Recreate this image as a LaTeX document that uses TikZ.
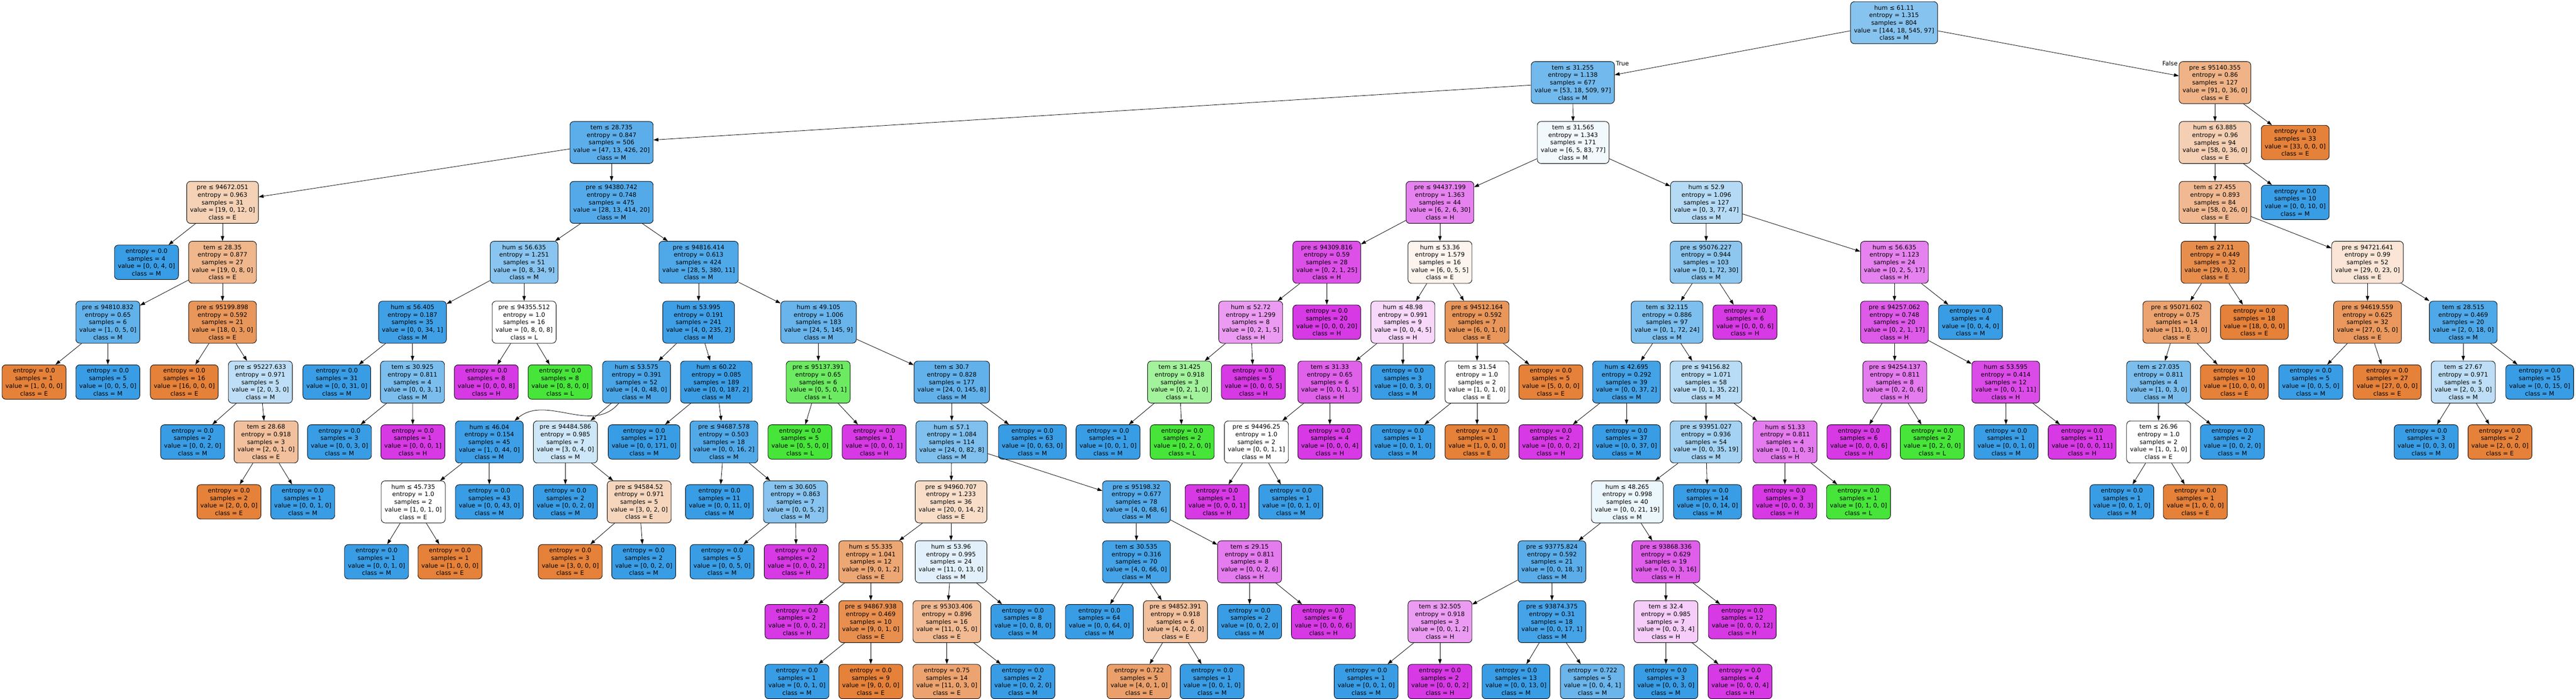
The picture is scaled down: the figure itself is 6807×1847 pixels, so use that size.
\documentclass[tikz,border=0pt]{standalone}
\usepackage{fontspec}
\setmainfont{DejaVu Sans}
\usetikzlibrary{arrows.meta}

\definecolor{cE}{HTML}{E58139}
\definecolor{cL}{HTML}{47E539}
\definecolor{cM}{HTML}{399DE5}
\definecolor{cH}{HTML}{D739E5}

% shade = share of the majority class over the runner-up
\def\dtparse#1,#2,#3,#4\relax{\def\dta{#1}\def\dtb{#2}\def\dtc{#3}\def\dtd{#4}}
\newcommand{\dtshade}[1]{%
  \dtparse#1\relax
  \pgfmathsetmacro\dtfirst{max(\dta,\dtb,\dtc,\dtd)}%
  \pgfmathsetmacro\dtsecond{max(min(max(\dta,\dtb),max(\dtc,\dtd)),min(\dta,\dtb),min(\dtc,\dtd))}%
  \pgfmathsetmacro\dtalpha{(\dtfirst-\dtsecond)/(\dta+\dtb+\dtc+\dtd-\dtsecond)*100}}
% name, x, level, test, entropy, samples, value, class
\newcommand{\dtsplit}[8]{\dtshade{#7}%
  \node[splitbox, fill = c#8!\dtalpha!white] (#1) at (#2, {60+158.3*#3})
    {#4\\entropy = #5\\samples = #6\\value = [#7]\\class = #8};}
% name, x, level, entropy, samples, value, class
\newcommand{\dtleaf}[7]{\dtshade{#6}%
  \node[leafbox, fill = c#7!\dtalpha!white] (#1) at (#2, {60+158.3*#3})
    {entropy = #4\\samples = #5\\value = [#6]\\class = #7};}

\begin{document}
\begin{tikzpicture}[x = 1pt, y = -1pt, align = center,
    font = \fontsize{16}{20}\selectfont,
    box/.style = {draw, line width = 1.2pt, rounded corners = 10pt, inner xsep = 9pt, inner ysep = 3pt},
    splitbox/.style = {box, minimum height = 111pt},
    leafbox/.style = {box, minimum height = 91pt},
    edge/.style = {line width = 1.1pt, -{Triangle[length = 13pt, width = 9pt]}}]
    \useasboundingbox (0, 0) rectangle (6807, 1847);

    % level 0 - 3
    \dtsplit{o}{5005}{0}{hum ≤ 61.11}{1.315}{804}{144, 18, 545, 97}{M}
    \dtsplit{l}{4156}{1}{tem ≤ 31.255}{1.138}{677}{53, 18, 509, 97}{M}
    \dtsplit{r}{5853}{1}{pre ≤ 95140.355}{0.86}{127}{91, 0, 36, 0}{E}
    \dtsplit{ll}{1616}{2}{tem ≤ 28.735}{0.847}{506}{47, 13, 426, 20}{M}
    \dtsplit{lr}{4157}{2}{tem ≤ 31.565}{1.343}{171}{6, 5, 83, 77}{M}
    \dtsplit{rl}{5853}{2}{hum ≤ 63.885}{0.96}{94}{58, 0, 36, 0}{E}
    \dtleaf{rr}{6065}{2}{0.0}{33}{33, 0, 0, 0}{E}
    \dtsplit{lll}{588}{3}{pre ≤ 94672.051}{0.963}{31}{19, 0, 12, 0}{E}
    \dtsplit{llr}{1616}{3}{pre ≤ 94380.742}{0.748}{475}{28, 13, 414, 20}{M}
    \dtsplit{lrl}{3805}{3}{pre ≤ 94437.199}{1.363}{44}{6, 2, 6, 30}{H}
    \dtsplit{lrr}{4509}{3}{hum ≤ 52.9}{1.096}{127}{0, 3, 77, 47}{M}
    \dtsplit{rll}{5853}{3}{tem ≤ 27.455}{0.893}{84}{58, 0, 26, 0}{E}
    \dtleaf{rlr}{6065}{3}{0.0}{10}{0, 0, 10, 0}{M}

    % level 4
    \dtleaf{llll}{387}{4}{0.0}{4}{0, 0, 4, 0}{M}
    \dtsplit{lllr}{588}{4}{tem ≤ 28.35}{0.877}{27}{19, 0, 8, 0}{E}
    \dtsplit{llrl}{1385}{4}{hum ≤ 56.635}{1.251}{51}{0, 8, 34, 9}{M}
    \dtsplit{llrr}{1846}{4}{pre ≤ 94816.414}{0.613}{424}{28, 5, 380, 11}{M}
    \dtsplit{lrll}{3506}{4}{pre ≤ 94309.816}{0.59}{28}{0, 2, 1, 25}{H}
    \dtsplit{lrlr}{3805}{4}{hum ≤ 53.36}{1.579}{16}{6, 0, 5, 5}{E}
    \dtsplit{lrrl}{4508}{4}{pre ≤ 95076.227}{0.944}{103}{0, 1, 72, 30}{M}
    \dtsplit{lrrr}{5006}{4}{hum ≤ 56.635}{1.123}{24}{0, 2, 5, 17}{H}
    \dtsplit{rlll}{5853}{4}{tem ≤ 27.11}{0.449}{32}{29, 0, 3, 0}{E}
    \dtsplit{rllr}{6256}{4}{pre ≤ 94721.641}{0.99}{52}{29, 0, 23, 0}{E}

    % level 5
    \dtsplit{lllrl}{285}{5}{pre ≤ 94810.832}{0.65}{6}{1, 0, 5, 0}{M}
    \dtsplit{lllrr}{588}{5}{pre ≤ 95199.898}{0.592}{21}{18, 0, 3, 0}{E}
    \dtsplit{llrll}{1090}{5}{hum ≤ 56.405}{0.187}{35}{0, 0, 34, 1}{M}
    \dtsplit{llrlr}{1385}{5}{pre ≤ 94355.512}{1.0}{16}{0, 8, 0, 8}{L}
    \dtsplit{llrrl}{1846}{5}{hum ≤ 53.995}{0.191}{241}{4, 0, 235, 2}{M}
    \dtsplit{llrrr}{2163}{5}{hum ≤ 49.105}{1.006}{183}{24, 5, 145, 9}{M}
    \dtsplit{lrlll}{3305}{5}{hum ≤ 52.72}{1.299}{8}{0, 2, 1, 5}{H}
    \dtleaf{lrllr}{3506}{5}{0.0}{20}{0, 0, 0, 20}{H}
    \dtsplit{lrlrl}{3707}{5}{hum ≤ 48.98}{0.991}{9}{0, 0, 4, 5}{H}
    \dtsplit{lrlrr}{3903}{5}{pre ≤ 94512.164}{0.592}{7}{6, 0, 1, 0}{E}
    \dtsplit{lrrll}{4405}{5}{tem ≤ 32.115}{0.886}{97}{0, 1, 72, 24}{M}
    \dtleaf{lrrlr}{4611}{5}{0.0}{6}{0, 0, 0, 6}{H}
    \dtsplit{lrrrl}{5006}{5}{pre ≤ 94257.062}{0.748}{20}{0, 2, 1, 17}{H}
    \dtleaf{lrrrr}{5207}{5}{0.0}{4}{0, 0, 4, 0}{M}
    \dtsplit{rllll}{5752}{5}{pre ≤ 95071.602}{0.75}{14}{11, 0, 3, 0}{E}
    \dtleaf{rlllr}{5957}{5}{0.0}{18}{18, 0, 0, 0}{E}
    \dtsplit{rllrl}{6256}{5}{pre ≤ 94619.559}{0.625}{32}{27, 0, 5, 0}{E}
    \dtsplit{rllrr}{6509}{5}{tem ≤ 28.515}{0.469}{20}{2, 0, 18, 0}{M}

    % level 6
    \dtleaf{lllrll}{90}{6}{0.0}{1}{1, 0, 0, 0}{E}
    \dtleaf{lllrlr}{285}{6}{0.0}{5}{0, 0, 5, 0}{M}
    \dtleaf{lllrrl}{487}{6}{0.0}{16}{16, 0, 0, 0}{E}
    \dtsplit{lllrrr}{688}{6}{pre ≤ 95227.633}{0.971}{5}{2, 0, 3, 0}{M}
    \dtleaf{llrlll}{890}{6}{0.0}{31}{0, 0, 31, 0}{M}
    \dtsplit{llrllr}{1090}{6}{tem ≤ 30.925}{0.811}{4}{0, 0, 3, 1}{M}
    \dtleaf{llrlrl}{1285}{6}{0.0}{8}{0, 0, 0, 8}{H}
    \dtleaf{llrlrr}{1480}{6}{0.0}{8}{0, 8, 0, 0}{L}
    \dtsplit{llrrll}{1682}{6}{hum ≤ 53.575}{0.391}{52}{4, 0, 48, 0}{M}
    \dtsplit{llrrlr}{1893}{6}{hum ≤ 60.22}{0.085}{189}{0, 0, 187, 2}{M}
    \dtsplit{llrrrl}{2162}{6}{pre ≤ 95137.391}{0.65}{6}{0, 5, 0, 1}{L}
    \dtsplit{llrrrr}{2515}{6}{tem ≤ 30.7}{0.828}{177}{24, 0, 145, 8}{M}
    \dtsplit{lrllll}{3117}{6}{tem ≤ 31.425}{0.918}{3}{0, 2, 1, 0}{L}
    \dtleaf{lrlllr}{3312}{6}{0.0}{5}{0, 0, 0, 5}{H}
    \dtsplit{lrlrll}{3514}{6}{tem ≤ 31.33}{0.65}{6}{0, 0, 1, 5}{H}
    \dtleaf{lrlrlr}{3707}{6}{0.0}{3}{0, 0, 3, 0}{M}
    \dtsplit{lrlrrl}{3903}{6}{tem ≤ 31.54}{1.0}{2}{1, 0, 1, 0}{E}
    \dtleaf{lrlrrr}{4098}{6}{0.0}{5}{5, 0, 0, 0}{E}
    \dtsplit{lrrlll}{4298}{6}{hum ≤ 42.695}{0.292}{39}{0, 0, 37, 2}{M}
    \dtsplit{lrrllr}{4508}{6}{pre ≤ 94156.82}{1.071}{58}{0, 1, 35, 22}{M}
    \dtsplit{lrrrll}{5007}{6}{pre ≤ 94254.137}{0.811}{8}{0, 2, 0, 6}{H}
    \dtsplit{lrrrlr}{5300}{6}{hum ≤ 53.595}{0.414}{12}{0, 0, 1, 11}{H}
    \dtsplit{rlllll}{5704}{6}{tem ≤ 27.035}{0.811}{4}{1, 0, 3, 0}{M}
    \dtleaf{rllllr}{5904}{6}{0.0}{10}{10, 0, 0, 0}{E}
    \dtleaf{rllrll}{6106}{6}{0.0}{5}{0, 0, 5, 0}{M}
    \dtleaf{rllrlr}{6308}{6}{0.0}{27}{27, 0, 0, 0}{E}
    \dtsplit{rllrrl}{6509}{6}{tem ≤ 27.67}{0.971}{5}{2, 0, 3, 0}{M}
    \dtleaf{rllrrr}{6711}{6}{0.0}{15}{0, 0, 15, 0}{M}

    % level 7
    \dtleaf{lllrrrl}{509}{7}{0.0}{2}{0, 0, 2, 0}{M}
    \dtsplit{lllrrrr}{703}{7}{tem ≤ 28.68}{0.918}{3}{2, 0, 1, 0}{E}
    \dtleaf{llrllrl}{897}{7}{0.0}{3}{0, 0, 3, 0}{M}
    \dtleaf{llrllrr}{1091}{7}{0.0}{1}{0, 0, 0, 1}{H}
    \dtsplit{llrrlll}{1293}{7}{hum ≤ 46.04}{0.154}{45}{1, 0, 44, 0}{M}
    \dtsplit{llrrllr}{1494}{7}{pre ≤ 94484.586}{0.985}{7}{3, 0, 4, 0}{M}
    \dtleaf{llrrlrl}{1702}{7}{0.0}{171}{0, 0, 171, 0}{M}
    \dtsplit{llrrlrr}{1913}{7}{pre ≤ 94687.578}{0.503}{18}{0, 0, 16, 2}{M}
    \dtleaf{llrrrll}{2114}{7}{0.0}{5}{0, 5, 0, 0}{L}
    \dtleaf{llrrrlr}{2310}{7}{0.0}{1}{0, 0, 0, 1}{H}
    \dtsplit{llrrrrl}{2515}{7}{hum ≤ 57.1}{1.084}{114}{24, 0, 82, 8}{M}
    \dtleaf{llrrrrr}{2728}{7}{0.0}{63}{0, 0, 63, 0}{M}
    \dtleaf{lrlllll}{2928}{7}{0.0}{1}{0, 0, 1, 0}{M}
    \dtleaf{lrllllr}{3124}{7}{0.0}{2}{0, 2, 0, 0}{L}
    \dtsplit{lrlrlll}{3320}{7}{pre ≤ 94496.25}{1.0}{2}{0, 0, 1, 1}{M}
    \dtleaf{lrlrllr}{3514}{7}{0.0}{4}{0, 0, 0, 4}{H}
    \dtleaf{lrlrrll}{3707}{7}{0.0}{1}{0, 0, 1, 0}{M}
    \dtleaf{lrlrrlr}{3903}{7}{0.0}{1}{1, 0, 0, 0}{E}
    \dtleaf{lrrllll}{4098}{7}{0.0}{2}{0, 0, 0, 2}{H}
    \dtleaf{lrrlllr}{4298}{7}{0.0}{37}{0, 0, 37, 0}{M}
    \dtsplit{lrrllrl}{4508}{7}{pre ≤ 93951.027}{0.936}{54}{0, 0, 35, 19}{M}
    \dtsplit{lrrllrr}{4717}{7}{hum ≤ 51.33}{0.811}{4}{0, 1, 0, 3}{H}
    \dtleaf{lrrrlll}{4912}{7}{0.0}{6}{0, 0, 0, 6}{H}
    \dtleaf{lrrrllr}{5106}{7}{0.0}{2}{0, 2, 0, 0}{L}
    \dtleaf{lrrrlrl}{5301}{7}{0.0}{1}{0, 0, 1, 0}{M}
    \dtleaf{lrrrlrr}{5502}{7}{0.0}{11}{0, 0, 0, 11}{H}
    \dtsplit{rllllll}{5704}{7}{tem ≤ 26.96}{1.0}{2}{1, 0, 1, 0}{E}
    \dtleaf{rlllllr}{5899}{7}{0.0}{2}{0, 0, 2, 0}{M}
    \dtleaf{rllrrll}{6411}{7}{0.0}{3}{0, 0, 3, 0}{M}
    \dtleaf{rllrrlr}{6606}{7}{0.0}{2}{2, 0, 0, 0}{E}

    % level 8
    \dtleaf{lllrrrrl}{605}{8}{0.0}{2}{2, 0, 0, 0}{E}
    \dtleaf{lllrrrrr}{800}{8}{0.0}{1}{0, 0, 1, 0}{M}
    \dtsplit{llrrllll}{1092}{8}{hum ≤ 45.735}{1.0}{2}{1, 0, 1, 0}{E}
    \dtleaf{llrrlllr}{1293}{8}{0.0}{43}{0, 0, 43, 0}{M}
    \dtleaf{llrrllrl}{1494}{8}{0.0}{2}{0, 0, 2, 0}{M}
    \dtsplit{llrrllrr}{1689}{8}{pre ≤ 94584.52}{0.971}{5}{3, 0, 2, 0}{E}
    \dtleaf{llrrlrrl}{1901}{8}{0.0}{11}{0, 0, 11, 0}{M}
    \dtsplit{llrrlrrr}{2102}{8}{tem ≤ 30.605}{0.863}{7}{0, 0, 5, 2}{M}
    \dtsplit{llrrrrll}{2513}{8}{pre ≤ 94960.707}{1.233}{36}{20, 0, 14, 2}{E}
    \dtsplit{llrrrrlr}{3003}{8}{pre ≤ 95198.32}{0.677}{78}{4, 0, 68, 6}{M}
    \dtleaf{lrlrllll}{3216}{8}{0.0}{1}{0, 0, 0, 1}{H}
    \dtleaf{lrlrlllr}{3411}{8}{0.0}{1}{0, 0, 1, 0}{M}
    \dtsplit{lrrllrll}{4300}{8}{hum ≤ 48.265}{0.998}{40}{0, 0, 21, 19}{M}
    \dtleaf{lrrllrlr}{4512}{8}{0.0}{14}{0, 0, 14, 0}{M}
    \dtleaf{lrrllrrl}{4716}{8}{0.0}{3}{0, 0, 0, 3}{H}
    \dtleaf{lrrllrrr}{4911}{8}{0.0}{1}{0, 1, 0, 0}{L}
    \dtleaf{rlllllll}{5607}{8}{0.0}{1}{0, 0, 1, 0}{M}
    \dtleaf{rllllllr}{5801}{8}{0.0}{1}{1, 0, 0, 0}{E}

    % level 9
    \dtleaf{llrrlllll}{995}{9}{0.0}{1}{0, 0, 1, 0}{M}
    \dtleaf{llrrllllr}{1189}{9}{0.0}{1}{1, 0, 0, 0}{E}
    \dtleaf{llrrllrrl}{1507}{9}{0.0}{3}{3, 0, 0, 0}{E}
    \dtleaf{llrrllrrr}{1701}{9}{0.0}{2}{0, 0, 2, 0}{M}
    \dtleaf{llrrlrrrl}{1908}{9}{0.0}{5}{0, 0, 5, 0}{M}
    \dtleaf{llrrlrrrr}{2104}{9}{0.0}{2}{0, 0, 0, 2}{H}
    \dtsplit{llrrrrlll}{2301}{9}{hum ≤ 55.335}{1.041}{12}{9, 0, 1, 2}{E}
    \dtsplit{llrrrrllr}{2513}{9}{hum ≤ 53.96}{0.995}{24}{11, 0, 13, 0}{M}
    \dtsplit{llrrrrlrl}{3003}{9}{tem ≤ 30.535}{0.316}{70}{4, 0, 66, 0}{M}
    \dtsplit{llrrrrlrr}{3302}{9}{tem ≤ 29.15}{0.811}{8}{0, 0, 2, 6}{H}
    \dtsplit{lrrllrlll}{4101}{9}{pre ≤ 93775.824}{0.592}{21}{0, 0, 18, 3}{M}
    \dtsplit{lrrllrllr}{4402}{9}{pre ≤ 93868.336}{0.629}{19}{0, 0, 3, 16}{H}

    % level 10
    \dtleaf{llrrrrllll}{2106}{10}{0.0}{2}{0, 0, 0, 2}{H}
    \dtsplit{llrrrrlllr}{2301}{10}{pre ≤ 94867.938}{0.469}{10}{9, 0, 1, 0}{E}
    \dtsplit{llrrrrllrl}{2502}{10}{pre ≤ 95303.406}{0.896}{16}{11, 0, 5, 0}{E}
    \dtleaf{llrrrrllrr}{2703}{10}{0.0}{8}{0, 0, 8, 0}{M}
    \dtleaf{llrrrrlrll}{2905}{10}{0.0}{64}{0, 0, 64, 0}{M}
    \dtsplit{llrrrrlrlr}{3106}{10}{pre ≤ 94852.391}{0.918}{6}{4, 0, 2, 0}{E}
    \dtleaf{llrrrrlrrl}{3302}{10}{0.0}{2}{0, 0, 2, 0}{M}
    \dtleaf{llrrrrlrrr}{3497}{10}{0.0}{6}{0, 0, 0, 6}{H}
    \dtsplit{lrrllrllll}{3805}{10}{tem ≤ 32.505}{0.918}{3}{0, 0, 1, 2}{H}
    \dtsplit{lrrllrlllr}{4101}{10}{pre ≤ 93874.375}{0.31}{18}{0, 0, 17, 1}{M}
    \dtsplit{lrrllrllrl}{4402}{10}{tem ≤ 32.4}{0.985}{7}{0, 0, 3, 4}{H}
    \dtleaf{lrrllrllrr}{4604}{10}{0.0}{12}{0, 0, 0, 12}{H}

    % level 11
    \dtleaf{llrrrrlllrl}{2106}{11}{0.0}{1}{0, 0, 1, 0}{M}
    \dtleaf{llrrrrlllrr}{2301}{11}{0.0}{9}{9, 0, 0, 0}{E}
    \dtleaf{llrrrrllrll}{2502}{11}{0.75}{14}{11, 0, 3, 0}{E}
    \dtleaf{llrrrrllrlr}{2703}{11}{0.0}{2}{0, 0, 2, 0}{M}
    \dtleaf{llrrrrlrlrl}{3010}{11}{0.722}{5}{4, 0, 1, 0}{E}
    \dtleaf{llrrrrlrlrr}{3203}{11}{0.0}{1}{0, 0, 1, 0}{M}
    \dtleaf{lrrllrlllll}{3610}{11}{0.0}{1}{0, 0, 1, 0}{M}
    \dtleaf{lrrllrllllr}{3805}{11}{0.0}{2}{0, 0, 0, 2}{H}
    \dtleaf{lrrllrlllrl}{4006}{11}{0.0}{13}{0, 0, 13, 0}{M}
    \dtleaf{lrrllrlllrr}{4208}{11}{0.722}{5}{0, 0, 4, 1}{M}
    \dtleaf{lrrllrllrll}{4402}{11}{0.0}{3}{0, 0, 3, 0}{M}
    \dtleaf{lrrllrllrlr}{4598}{11}{0.0}{4}{0, 0, 0, 4}{H}

    \node[anchor = west] (truelbl) at ([yshift = -6pt]l.north east) {True};
    \node[anchor = east] (falselbl) at ([yshift = -6pt]r.north west) {False};

    \foreach \p/\c in {o/l, o/r, l/ll, l/lr, ll/lll, ll/llr, lll/llll, lll/lllr,
        lllr/lllrl, lllr/lllrr, lllrl/lllrll, lllrl/lllrlr, lllrr/lllrrl, lllrr/lllrrr,
        lllrrr/lllrrrl, lllrrr/lllrrrr, lllrrrr/lllrrrrl, lllrrrr/lllrrrrr,
        llr/llrl, llr/llrr, llrl/llrll, llrl/llrlr, llrll/llrlll, llrll/llrllr,
        llrllr/llrllrl, llrllr/llrllrr, llrlr/llrlrl, llrlr/llrlrr,
        llrr/llrrl, llrr/llrrr, llrrl/llrrll, llrrl/llrrlr, llrrll/llrrllr,
        llrrlll/llrrllll, llrrlll/llrrlllr, llrrllll/llrrlllll, llrrllll/llrrllllr,
        llrrllr/llrrllrl, llrrllr/llrrllrr, llrrllrr/llrrllrrl, llrrllrr/llrrllrrr,
        llrrlr/llrrlrl, llrrlr/llrrlrr, llrrlrr/llrrlrrl, llrrlrr/llrrlrrr,
        llrrlrrr/llrrlrrrl, llrrlrrr/llrrlrrrr,
        llrrr/llrrrl, llrrr/llrrrr, llrrrl/llrrrll, llrrrl/llrrrlr,
        llrrrr/llrrrrl, llrrrr/llrrrrr, llrrrrl/llrrrrll, llrrrrl/llrrrrlr,
        llrrrrll/llrrrrlll, llrrrrll/llrrrrllr, llrrrrlll/llrrrrllll, llrrrrlll/llrrrrlllr,
        llrrrrlllr/llrrrrlllrl, llrrrrlllr/llrrrrlllrr, llrrrrllr/llrrrrllrl, llrrrrllr/llrrrrllrr,
        llrrrrllrl/llrrrrllrll, llrrrrllrl/llrrrrllrlr, llrrrrlr/llrrrrlrl, llrrrrlr/llrrrrlrr,
        llrrrrlrl/llrrrrlrll, llrrrrlrl/llrrrrlrlr, llrrrrlrlr/llrrrrlrlrl, llrrrrlrlr/llrrrrlrlrr,
        llrrrrlrr/llrrrrlrrl, llrrrrlrr/llrrrrlrrr,
        lr/lrl, lr/lrr, lrl/lrll, lrl/lrlr, lrll/lrlll, lrll/lrllr,
        lrlll/lrllll, lrlll/lrlllr, lrllll/lrlllll, lrllll/lrllllr,
        lrlr/lrlrl, lrlr/lrlrr, lrlrl/lrlrll, lrlrl/lrlrlr, lrlrll/lrlrlll, lrlrll/lrlrllr,
        lrlrlll/lrlrllll, lrlrlll/lrlrlllr, lrlrr/lrlrrl, lrlrr/lrlrrr, lrlrrl/lrlrrll, lrlrrl/lrlrrlr,
        lrr/lrrl, lrr/lrrr, lrrl/lrrll, lrrl/lrrlr, lrrll/lrrlll, lrrll/lrrllr,
        lrrlll/lrrllll, lrrlll/lrrlllr, lrrllr/lrrllrl, lrrllr/lrrllrr,
        lrrllrl/lrrllrll, lrrllrl/lrrllrlr, lrrllrll/lrrllrlll, lrrllrll/lrrllrllr,
        lrrllrlll/lrrllrllll, lrrllrlll/lrrllrlllr, lrrllrllll/lrrllrlllll, lrrllrllll/lrrllrllllr,
        lrrllrlllr/lrrllrlllrl, lrrllrlllr/lrrllrlllrr, lrrllrllr/lrrllrllrl, lrrllrllr/lrrllrllrr,
        lrrllrllrl/lrrllrllrll, lrrllrllrl/lrrllrllrlr, lrrllrr/lrrllrrl, lrrllrr/lrrllrrr,
        lrrr/lrrrl, lrrr/lrrrr, lrrrl/lrrrll, lrrrl/lrrrlr,
        lrrrll/lrrrlll, lrrrll/lrrrllr, lrrrlr/lrrrlrl, lrrrlr/lrrrlrr,
        r/rl, r/rr, rl/rll, rl/rlr, rll/rlll, rll/rllr, rlll/rllll, rlll/rlllr,
        rllll/rlllll, rllll/rllllr, rlllll/rllllll, rlllll/rlllllr,
        rllllll/rlllllll, rllllll/rllllllr, rllr/rllrl, rllr/rllrr,
        rllrl/rllrll, rllrl/rllrlr, rllrr/rllrrl, rllrr/rllrrr,
        rllrrl/rllrrll, rllrrl/rllrrlr}
        \draw[edge] (\p) -- (\c);
    \draw[edge] (llrrll) to [out = -130, in = 40] (llrrlll);
\end{tikzpicture}
\end{document}
